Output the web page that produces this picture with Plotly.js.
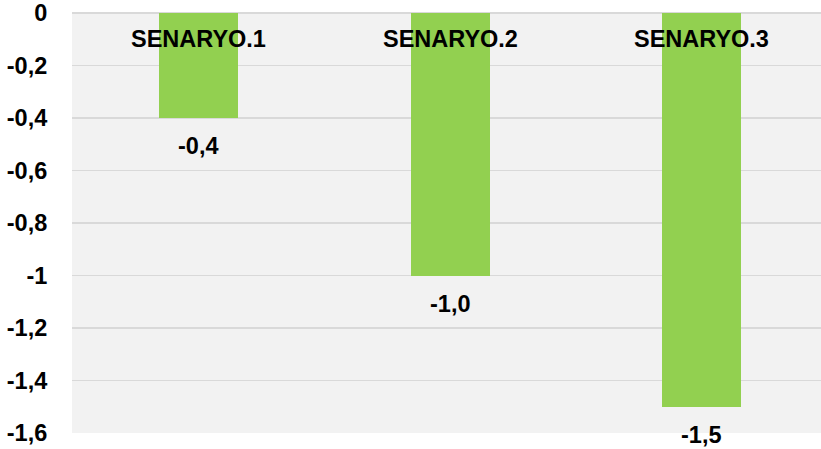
<!DOCTYPE html>
<html>
<head>
<meta charset="utf-8">
<script src="https://cdn.plot.ly/plotly-3.0.1.min.js"></script>
<style>html,body{margin:0;padding:0;background:#fff;}#chart{width:821px;height:449px;}</style>
</head>
<body>
<div id="chart"></div>
<script>
const categories = ["SENARYO.1", "SENARYO.2", "SENARYO.3"];
const values = [-0.4, -1.0, -1.5];
const tickValues = [0, -0.2, -0.4, -0.6, -0.8, -1, -1.2, -1.4, -1.6];
const tickLabels = ["0", "-0,2", "-0,4", "-0,6", "-0,8", "-1", "-1,2", "-1,4", "-1,6"];

const FONT = "Liberation Sans, Arial, sans-serif";
const SIZE = 23.5;
const fmt = v => v.toFixed(1).replace('.', ',');

const annotations = [];
categories.forEach((c, i) => {
  annotations.push({
    x: c, y: 0.938, xref: 'x', yref: 'paper', text: '<b>' + c + '</b>',
    showarrow: false, xanchor: 'center', yanchor: 'middle',
    font: {family: FONT, size: SIZE, color: '#000'}
  });
  annotations.push({
    x: c, y: values[i], xref: 'x', yref: 'y', text: '<b>' + fmt(values[i]) + '</b>',
    showarrow: false, xanchor: 'center', yanchor: 'middle', yshift: -28,
    font: {family: FONT, size: SIZE, color: '#000'}
  });
});

const data = [{
  type: 'bar', x: categories, y: values,
  marker: {color: '#92d050'}, width: 0.314,
  hoverinfo: 'none'
}];

const layout = {
  width: 821, height: 449,
  margin: {l: 72, r: 0, t: 13, b: 16},
  paper_bgcolor: '#ffffff', plot_bgcolor: '#f2f2f2',
  separators: ',.',
  showlegend: false,
  xaxis: {
    type: 'category', range: [-0.503, 2.475],
    showticklabels: false, showgrid: false, zeroline: false, showline: false, ticks: ''
  },
  yaxis: {
    range: [-1.6, 0], tickmode: 'array', tickvals: tickValues, ticktext: tickLabels,
    showgrid: true, gridcolor: '#d9d9d9', gridwidth: 1.3,
    zeroline: true, zerolinecolor: '#d9d9d9', zerolinewidth: 1.3,
    showline: false, ticks: 'outside', ticklen: 19, tickcolor: 'rgba(0,0,0,0)',
    tickfont: {family: FONT, size: SIZE, color: '#000', weight: 'bold'}
  },
  annotations: annotations,
  bargap: 0
};

Plotly.newPlot('chart', data, layout, {displayModeBar: false, staticPlot: true});
</script>
</body>
</html>
